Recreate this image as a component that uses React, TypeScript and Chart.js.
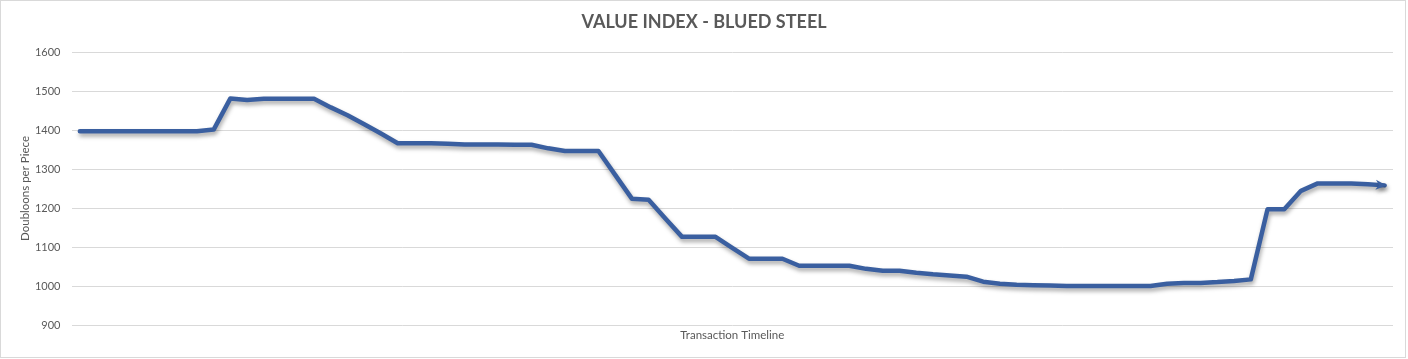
import React, { useEffect, useRef } from 'react';
import { Chart, registerables } from 'chart.js';

Chart.register(...registerables);

const chartTitle = 'VALUE INDEX - BLUED STEEL';
const yAxisTitle = 'Doubloons per Piece';
const xAxisTitle = 'Transaction Timeline';

const yMin = 900;
const yMax = 1600;
const yStep = 100;

const values = [
  1397, 1397, 1397, 1397, 1397, 1397, 1397, 1397, 1401, 1481,
  1477, 1480, 1480, 1480, 1480, 1458, 1438, 1415, 1391, 1366,
  1366, 1366, 1365, 1363, 1363, 1363, 1362, 1362, 1353, 1346,
  1346, 1346, 1285, 1224, 1221, 1173, 1126, 1126, 1126, 1098,
  1070, 1070, 1070, 1052, 1052, 1052, 1052, 1044, 1039, 1039,
  1034, 1030, 1027, 1024, 1011, 1006, 1003, 1002, 1001, 1000,
  1000, 1000, 1000, 1000, 1000, 1006, 1008, 1008, 1010, 1013,
  1017, 1197, 1197, 1244, 1263, 1263, 1263, 1261, 1258,
];

const categories = values.map((_, i) => `T${i + 1}`);

const lineColor = '#3A5FA0';
const textColor = '#595959';
const gridColor = '#D9D9D9';

const decorPlugin = {
  id: 'decor',
  beforeDraw(chart: any) {
    const { ctx, width, height } = chart;
    ctx.save();
    ctx.fillStyle = '#ffffff';
    ctx.fillRect(0, 0, width, height);
    ctx.strokeStyle = gridColor;
    ctx.lineWidth = 1;
    ctx.strokeRect(0.5, 0.5, width - 3, height - 2);
    ctx.restore();
  },
  beforeDatasetsDraw(chart: any) {
    const ctx = chart.ctx;
    ctx.save();
    ctx.shadowColor = 'rgba(0,0,0,0.35)';
    ctx.shadowBlur = 4;
    ctx.shadowOffsetX = 1;
    ctx.shadowOffsetY = 3;
  },
  afterDatasetsDraw(chart: any) {
    const ctx = chart.ctx;
    const meta = chart.getDatasetMeta(0);
    const pts = meta.data;
    if (pts.length >= 2) {
      const last = pts[pts.length - 1];
      const prev = pts[pts.length - 2];
      const ang = Math.atan2(last.y - prev.y, last.x - prev.x);
      const L = 11;
      const W = 10;
      ctx.translate(last.x, last.y);
      ctx.rotate(ang);
      ctx.beginPath();
      ctx.moveTo(2, 0);
      ctx.lineTo(2 - L, -W / 2);
      ctx.lineTo(2 - L * 0.7, 0);
      ctx.lineTo(2 - L, W / 2);
      ctx.closePath();
      ctx.fillStyle = lineColor;
      ctx.fill();
    }
    ctx.restore();
  },
};

export default function App() {
  const canvasRef = useRef<HTMLCanvasElement | null>(null);

  useEffect(() => {
    if (!canvasRef.current) return;
    const chart = new Chart(canvasRef.current, {
      type: 'line',
      data: {
        labels: categories,
        datasets: [
          {
            data: values,
            borderColor: lineColor,
            backgroundColor: lineColor,
            borderWidth: 4.5,
            pointRadius: 0,
            tension: 0,
            borderJoinStyle: 'round',
            borderCapStyle: 'round',
          },
        ],
      },
      options: {
        animation: false,
        responsive: false,
        maintainAspectRatio: false,
        layout: { padding: { left: 15, right: 15, top: 0, bottom: 0 } },
        plugins: {
          legend: { display: false },
          tooltip: { enabled: false },
          title: {
            display: true,
            text: chartTitle,
            color: textColor,
            font: { family: 'Lato', size: 18, weight: 'bold' },
            padding: { top: 11.2, bottom: 19.2 },
          },
        },
        scales: {
          x: {
            type: 'category',
            offset: true,
            grid: { display: false, drawTicks: false },
            border: { display: false },
            ticks: { display: false },
            title: {
              display: true,
              text: xAxisTitle,
              color: textColor,
              font: { family: 'Lato', size: 11.5 },
              padding: { top: 0, bottom: 17 },
            },
            afterFit: (s: any) => {
              s.height = 34;
            },
          },
          y: {
            min: yMin,
            max: yMax,
            grid: { color: gridColor, lineWidth: 1, drawTicks: false },
            border: { display: false },
            ticks: {
              stepSize: yStep,
              color: textColor,
              font: { family: 'Lato', size: 11 },
              padding: 11,
              callback: (v: any) => String(v),
            },
            title: {
              display: true,
              text: yAxisTitle,
              color: textColor,
              font: { family: 'Lato', size: 11.5 },
              padding: { top: 3, bottom: 0 },
            },
            afterFit: (s: any) => {
              s.width = 56.5;
            },
          },
        },
      },
      plugins: [decorPlugin],
    });
    return () => chart.destroy();
  }, []);

  return (
    <div style={{ position: 'absolute', left: 0, top: 0, width: 1408, height: 359 }}>
      <canvas ref={canvasRef} width={1408} height={359} style={{ display: 'block' }} />
    </div>
  );
}
